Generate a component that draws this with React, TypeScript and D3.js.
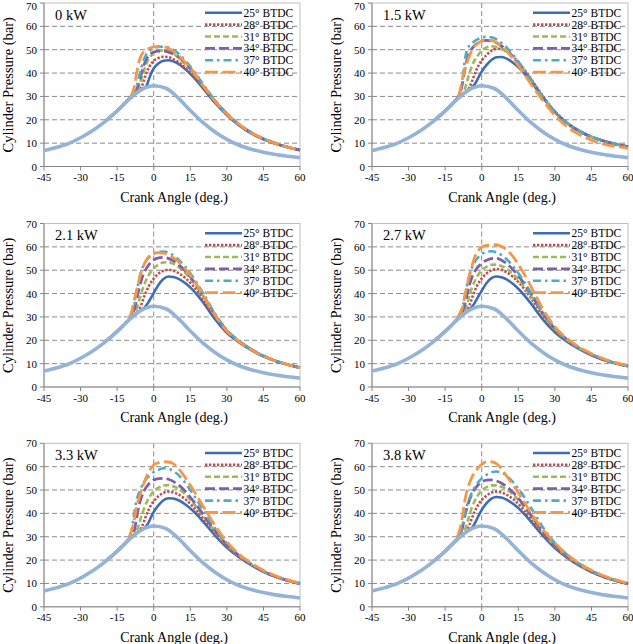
import React from "react";
import * as d3 from "d3";

// crank angle grid for the firing curves, and for the motoring curve
const angles = [-20, -15, -12, -10, -9, -8, -7, -6, -5, -4, -3, -2, -1, 0, 2, 4, 6, 8, 10, 13, 16, 20, 25, 30, 35, 40, 45, 50, 55, 60];
const motoringAngles = [-45, -40, -35, -30, -25, -20, -15, -10, -5, 0, 5, 10, 15, 20, 25, 30, 35, 40, 45, 50, 55, 60];
const motoring = [6.8, 8.1, 9.8, 12.3, 15.4, 19.2, 23.7, 28.8, 32.9, 34.6, 33.5, 29.4, 24.0, 19.0, 14.9, 11.6, 9.1, 7.4, 6.1, 5.1, 4.4, 3.8];

const timings = ["25° BTDC", "28° BTDC", "31° BTDC", "34° BTDC", "37° BTDC", "40° BTDC"];
const loads = ["0 kW", "1.5 kW", "2.1 kW", "2.7 kW", "3.3 kW", "3.8 kW"];
const xTicks = [-45, -30, -15, 0, 15, 30, 45, 60];
const yTicks = [0, 10, 20, 30, 40, 50, 60, 70];

// cylinder pressure (bar), one row per injection timing
const kw0 = [
  [19.3, 23.9, 26.9, 29.0, 30.0, 30.9, 31.6, 32.3, 33.0, 33.6, 34.4, 37.2, 40.0, 42.0, 44.2, 45.3, 45.5, 45.0, 44.0, 41.6, 38.6, 33.8, 27.4, 22.0, 17.6, 14.2, 11.6, 9.7, 8.2, 7.0],
  [19.3, 23.9, 26.9, 29.0, 30.0, 30.9, 31.6, 32.4, 34.0, 37.0, 40.0, 42.3, 44.0, 45.2, 46.5, 47.0, 46.8, 46.0, 44.8, 42.2, 39.2, 34.2, 27.7, 22.2, 17.8, 14.3, 11.7, 9.8, 8.3, 7.0],
  [19.3, 23.9, 26.9, 29.0, 30.0, 31.0, 32.3, 34.5, 37.5, 41.0, 44.0, 46.2, 47.6, 48.5, 49.5, 49.7, 49.3, 48.3, 46.8, 43.8, 40.3, 34.8, 28.0, 22.4, 17.9, 14.4, 11.8, 9.9, 8.3, 7.0],
  [19.3, 23.9, 26.9, 29.0, 30.0, 31.2, 33.0, 36.0, 40.0, 43.5, 46.0, 47.6, 48.5, 49.0, 49.4, 49.4, 49.0, 48.2, 47.0, 44.2, 40.8, 35.2, 28.3, 22.6, 18.0, 14.5, 11.9, 9.9, 8.3, 7.0],
  [19.3, 23.9, 26.9, 29.0, 30.2, 31.8, 34.5, 38.5, 42.5, 45.8, 48.0, 49.3, 50.2, 50.8, 51.2, 51.3, 51.0, 50.0, 48.5, 45.3, 41.5, 35.6, 28.5, 22.7, 18.1, 14.6, 11.9, 9.9, 8.3, 7.0],
  [19.3, 23.9, 27.0, 29.3, 30.8, 34.0, 40.0, 45.0, 47.8, 49.2, 50.0, 50.5, 50.9, 51.2, 51.4, 51.3, 50.6, 49.4, 47.8, 44.5, 40.8, 35.0, 28.2, 22.5, 18.0, 14.5, 11.9, 9.9, 8.3, 7.0],
];
const kw15 = [
  [19.3, 23.9, 26.9, 29.0, 30.0, 30.9, 31.6, 32.3, 33.0, 33.8, 35.0, 36.8, 38.8, 40.6, 43.5, 45.6, 46.8, 46.9, 46.3, 44.3, 41.5, 36.6, 29.6, 23.3, 18.6, 15.2, 12.7, 10.9, 9.5, 8.4],
  [19.3, 23.9, 26.9, 29.0, 30.0, 30.9, 31.6, 32.5, 34.0, 36.5, 39.2, 41.8, 43.8, 45.4, 47.8, 49.6, 50.4, 50.3, 49.4, 46.8, 43.4, 37.8, 30.3, 23.6, 18.8, 15.3, 12.8, 11.0, 9.6, 8.5],
  [19.3, 23.9, 26.9, 29.0, 30.0, 31.0, 33.0, 36.5, 40.0, 43.0, 45.3, 47.0, 48.4, 49.6, 51.0, 51.5, 51.2, 50.4, 49.2, 46.3, 42.9, 37.4, 30.0, 23.4, 18.6, 15.2, 12.7, 10.9, 9.5, 8.4],
  [19.3, 23.9, 26.9, 29.2, 31.0, 35.0, 41.0, 46.0, 48.8, 50.5, 51.7, 52.6, 53.2, 53.7, 54.0, 53.8, 53.0, 51.7, 50.0, 46.8, 43.0, 37.2, 29.8, 23.2, 18.5, 15.1, 12.7, 10.9, 9.5, 8.4],
  [19.3, 23.9, 26.9, 29.3, 31.5, 36.0, 45.0, 50.0, 51.8, 52.8, 53.6, 54.3, 54.8, 55.2, 55.5, 55.3, 54.5, 53.0, 51.2, 47.6, 43.6, 37.6, 30.0, 23.2, 18.6, 15.2, 12.8, 11.0, 9.6, 8.6],
  [19.3, 23.9, 27.0, 29.5, 32.0, 37.0, 41.5, 44.6, 47.4, 49.8, 51.4, 52.4, 53.2, 53.7, 54.2, 54.0, 53.1, 51.6, 49.8, 46.0, 41.8, 35.6, 28.3, 21.9, 17.0, 13.7, 11.3, 9.6, 8.6, 7.8],
];
const kw21 = [
  [19.3, 23.9, 26.9, 29.0, 30.0, 30.9, 31.6, 32.3, 33.0, 33.8, 35.0, 36.6, 38.4, 40.2, 43.8, 46.2, 47.3, 47.1, 46.4, 44.4, 41.6, 36.6, 29.2, 23.2, 19.1, 15.8, 13.1, 11.1, 9.5, 8.2],
  [19.3, 23.9, 26.9, 29.0, 30.0, 30.9, 31.8, 33.2, 35.5, 38.5, 41.0, 43.2, 45.0, 46.4, 48.6, 49.8, 50.2, 49.8, 48.9, 46.6, 43.5, 38.2, 30.3, 23.8, 19.4, 16.0, 13.2, 11.2, 9.6, 8.3],
  [19.3, 23.9, 26.9, 29.0, 30.0, 31.2, 33.5, 37.0, 40.5, 43.5, 46.0, 48.0, 49.6, 50.8, 52.4, 53.3, 53.4, 52.8, 51.5, 48.8, 45.2, 39.3, 30.9, 24.1, 19.6, 16.1, 13.3, 11.2, 9.6, 8.3],
  [19.3, 23.9, 26.9, 29.1, 30.5, 33.0, 37.5, 42.0, 46.0, 48.8, 50.8, 52.3, 53.5, 54.4, 55.3, 55.5, 55.1, 54.1, 52.6, 49.6, 45.8, 39.7, 31.1, 24.2, 19.6, 16.1, 13.3, 11.2, 9.6, 8.3],
  [19.3, 23.9, 27.0, 29.3, 31.5, 35.0, 40.5, 46.0, 50.0, 52.5, 54.2, 55.4, 56.3, 57.0, 57.8, 58.0, 57.6, 56.4, 54.7, 51.4, 47.2, 40.6, 31.6, 24.4, 19.7, 16.2, 13.4, 11.3, 9.6, 8.3],
  [19.3, 23.9, 27.0, 29.8, 32.5, 37.0, 41.5, 45.9, 49.5, 52.4, 54.4, 55.8, 56.7, 57.2, 57.5, 57.3, 56.6, 55.4, 53.8, 50.5, 46.4, 39.9, 31.0, 23.9, 19.4, 16.0, 13.2, 11.2, 9.6, 8.3],
];
const kw27 = [
  [19.3, 23.9, 26.9, 29.0, 30.0, 30.9, 31.6, 32.3, 33.2, 34.3, 35.8, 37.6, 39.5, 41.2, 44.5, 46.6, 47.3, 47.0, 46.2, 44.0, 41.0, 36.0, 29.0, 23.4, 19.4, 16.2, 13.6, 11.6, 10.1, 8.9],
  [19.3, 23.9, 26.9, 29.0, 30.0, 30.9, 31.8, 33.0, 35.0, 38.0, 40.8, 43.2, 45.0, 46.5, 48.6, 50.0, 50.5, 50.2, 49.3, 47.0, 43.8, 38.4, 30.6, 24.3, 19.8, 16.4, 13.7, 11.7, 10.1, 8.9],
  [19.3, 23.9, 26.9, 29.0, 30.0, 31.0, 32.5, 35.5, 39.0, 42.5, 45.0, 47.0, 48.7, 50.0, 51.5, 52.3, 52.4, 51.8, 50.7, 48.2, 44.8, 39.2, 31.2, 24.7, 20.1, 16.6, 13.9, 11.8, 10.2, 9.0],
  [19.3, 23.9, 26.9, 29.1, 30.3, 32.0, 35.0, 39.5, 43.8, 47.0, 49.2, 50.8, 52.0, 53.0, 54.3, 55.0, 55.1, 54.4, 53.0, 50.1, 46.3, 40.2, 31.7, 25.0, 20.3, 16.8, 14.0, 11.9, 10.2, 9.0],
  [19.3, 23.9, 26.9, 29.2, 31.0, 34.0, 38.0, 43.5, 48.0, 51.0, 53.2, 54.8, 56.0, 56.9, 57.8, 58.1, 57.7, 56.6, 54.9, 51.5, 47.3, 40.8, 32.0, 25.1, 20.3, 16.8, 14.0, 11.9, 10.2, 9.0],
  [19.3, 23.9, 27.0, 29.5, 31.5, 33.8, 38.7, 43.5, 48.0, 51.8, 55.2, 57.4, 58.9, 59.9, 60.6, 61.0, 60.9, 60.2, 59.0, 55.6, 50.8, 43.5, 33.5, 25.8, 20.7, 17.1, 14.3, 12.1, 10.4, 9.2],
];
const kw33 = [
  [19.3, 23.9, 26.9, 29.0, 30.0, 30.9, 31.6, 32.3, 33.0, 33.6, 34.6, 36.3, 38.6, 40.6, 43.5, 45.6, 46.5, 46.4, 45.7, 43.8, 41.2, 36.8, 30.7, 25.4, 21.2, 17.8, 15.0, 12.8, 11.2, 9.9],
  [19.3, 23.9, 26.9, 29.0, 30.0, 30.9, 31.7, 32.6, 34.0, 36.5, 39.3, 41.7, 43.7, 45.2, 47.4, 48.8, 49.3, 49.0, 48.2, 46.0, 43.0, 38.2, 31.7, 26.0, 21.5, 18.0, 15.1, 12.9, 11.2, 9.9],
  [19.3, 23.9, 26.9, 29.0, 30.0, 31.0, 32.6, 35.5, 39.0, 42.0, 44.5, 46.5, 48.2, 49.5, 51.0, 51.9, 52.1, 51.6, 50.6, 48.1, 44.7, 39.4, 32.4, 26.4, 21.8, 18.2, 15.2, 13.0, 11.3, 10.0],
  [19.3, 23.9, 26.9, 29.1, 30.4, 32.5, 38.0, 43.5, 47.0, 49.5, 51.3, 52.6, 53.6, 54.3, 54.9, 55.0, 54.6, 53.7, 52.3, 49.4, 45.6, 40.0, 32.7, 26.6, 21.9, 18.2, 15.2, 13.0, 11.3, 10.0],
  [19.3, 23.9, 27.0, 29.8, 33.0, 40.0, 45.7, 49.0, 51.4, 53.3, 54.8, 56.0, 56.9, 57.7, 58.7, 59.3, 59.1, 58.2, 56.6, 53.0, 48.5, 41.8, 33.7, 27.1, 22.2, 18.4, 15.4, 13.1, 11.4, 10.0],
  [19.3, 23.9, 27.0, 30.0, 32.9, 37.1, 42.9, 46.6, 50.0, 53.1, 55.7, 57.8, 59.5, 60.7, 61.7, 62.1, 62.0, 61.3, 59.4, 55.2, 50.4, 43.5, 35.0, 27.8, 22.6, 18.7, 15.6, 13.3, 11.5, 10.1],
];
const kw38 = [
  [19.3, 23.9, 26.9, 29.0, 30.0, 30.9, 31.6, 32.3, 33.0, 33.8, 35.4, 37.5, 39.6, 41.5, 44.4, 46.3, 47.0, 46.8, 46.0, 44.0, 41.3, 36.7, 30.6, 25.2, 21.0, 17.6, 14.9, 12.8, 11.2, 9.8],
  [19.3, 23.9, 26.9, 29.0, 30.0, 30.9, 31.8, 33.0, 35.2, 38.0, 40.5, 42.6, 44.4, 45.8, 47.6, 48.9, 49.3, 49.0, 48.1, 46.0, 43.0, 38.0, 31.4, 25.7, 21.3, 17.8, 15.0, 12.9, 11.2, 9.8],
  [19.3, 23.9, 26.9, 29.0, 30.0, 31.0, 32.8, 35.8, 39.4, 42.6, 45.0, 47.0, 48.6, 49.8, 51.2, 52.0, 52.0, 51.4, 50.4, 47.9, 44.6, 39.2, 32.0, 26.1, 21.5, 18.0, 15.1, 13.0, 11.3, 9.9],
  [19.3, 23.9, 26.9, 29.1, 30.5, 33.5, 38.5, 42.5, 45.8, 48.3, 50.2, 51.6, 52.7, 53.5, 54.2, 54.3, 53.9, 53.0, 51.6, 48.8, 45.2, 39.6, 32.3, 26.3, 21.7, 18.1, 15.2, 13.0, 11.3, 9.9],
  [19.3, 23.9, 27.0, 29.3, 31.0, 34.0, 39.3, 43.5, 46.5, 49.0, 51.0, 52.6, 53.9, 55.0, 56.5, 57.6, 57.9, 57.5, 56.3, 53.2, 49.2, 42.8, 34.2, 27.3, 22.3, 18.5, 15.5, 13.2, 11.4, 10.0],
  [19.3, 23.9, 27.0, 30.0, 33.0, 38.0, 45.0, 50.0, 53.0, 55.5, 57.4, 58.8, 60.0, 61.0, 62.1, 62.1, 61.3, 59.3, 56.3, 52.0, 47.2, 40.6, 33.2, 27.3, 22.4, 18.6, 15.6, 13.3, 11.5, 10.1],
];

const panels = [kw0, kw15, kw21, kw27, kw33, kw38];

const colors = ["#3d6db5", "#c0504d", "#9bbb59", "#7f60a6", "#4bacc6", "#f79646"];
const dashes = ["none", "2.4,1.6", "6,3", "10,4", "8,4,2.5,4", "13,4.5"];
const widths = [2.6, 2.6, 2.6, 2.8, 2.6, 2.8];
const motoringColor = "#95b3d7";
const font = "Liberation Serif, Times New Roman, serif";

const plotW = 256;
const plotH = 163.5;
const colX = [44, 372];
const rowY = [3, 223.5, 443.3];

const Panel: React.FC<{ x0: number; y0: number; label: string; series: number[][] }> = ({ x0, y0, label, series }) => {
  const x = d3.scaleLinear().domain([-45, 60]).range([x0, x0 + plotW]);
  const y = d3.scaleLinear().domain([0, 70]).range([y0 + plotH, y0]);
  const line = d3
    .line<[number, number]>()
    .x((d) => x(d[0]))
    .y((d) => y(d[1]))
    .curve(d3.curveMonotoneX);
  const bottom = y(0);
  const legendX = x0 + 161;

  return (
    <g fontFamily={font} fill="#000">
      {/* plot frame */}
      <rect x={x0} y={y0} width={plotW} height={plotH} fill="none" stroke="#bfbfbf" strokeWidth={1} />
      {yTicks.slice(1, -1).map((t) => (
        <line key={t} x1={x0} x2={x0 + plotW} y1={y(t)} y2={y(t)} stroke="#8a8a8a" strokeWidth={1} strokeDasharray="5,3" />
      ))}
      <line x1={x(0)} x2={x(0)} y1={y0} y2={bottom} stroke="#8a8a8a" strokeWidth={1} strokeDasharray="5,3" />
      <line x1={x0} x2={x0} y1={y0} y2={bottom} stroke="#868686" strokeWidth={1} />
      <line x1={x0} x2={x0 + plotW} y1={bottom} y2={bottom} stroke="#868686" strokeWidth={1} />
      {yTicks.map((t) => (
        <g key={t}>
          <line x1={x0 - 4} x2={x0} y1={y(t)} y2={y(t)} stroke="#868686" />
          <text x={x0 - 7} y={Math.max(y(t) + 4, 10)} textAnchor="end" fontSize={11} fontFamily={font}>
            {t}
          </text>
        </g>
      ))}
      {xTicks.map((t) => (
        <g key={t}>
          <line x1={x(t)} x2={x(t)} y1={bottom} y2={bottom + 4} stroke="#868686" />
          <text x={x(t)} y={bottom + 14.5} textAnchor="middle" fontSize={11} fontFamily={font}>
            {t}
          </text>
        </g>
      ))}
      <text x={x0 + plotW / 2 + 2} y={bottom + 35} textAnchor="middle" fontSize={14} fontFamily={font}>
        Crank Angle (deg.)
      </text>
      <text
        transform={`translate(${x0 - 31},${y0 + plotH / 2}) rotate(-90)`}
        textAnchor="middle"
        fontSize={14.5}
        fontFamily={font}
      >
        Cylinder Pressure (bar)
      </text>
      {series.map((vals, i) => (
        <path
          key={i}
          d={line(angles.map((a, j) => [a, vals[j]] as [number, number])) ?? ""}
          fill="none"
          stroke={colors[i]}
          strokeWidth={widths[i]}
          strokeDasharray={dashes[i]}
        />
      ))}
      <path
        d={line(motoringAngles.map((a, j) => [a, motoring[j]] as [number, number])) ?? ""}
        fill="none"
        stroke={motoringColor}
        strokeWidth={3.6}
      />
      <text x={x0 + 11} y={y0 + 16.5} fontSize={14.5} fontFamily={font}>
        {label}
      </text>
      {timings.map((name, i) => {
        const ly = y0 + 9.7 + i * 11.9;
        return (
          <g key={name}>
            <line
              x1={legendX}
              x2={legendX + 37}
              y1={ly}
              y2={ly}
              stroke={colors[i]}
              strokeWidth={widths[i]}
              strokeDasharray={dashes[i]}
            />
            <text x={legendX + 38.5} y={ly + 4} fontSize={11.5} fontFamily={font}>
              {name}
            </text>
          </g>
        );
      })}
    </g>
  );
};

export default function App() {
  return (
    <div style={{ position: "absolute", left: 0, top: 0 }}>
      <svg width={633} height={644} style={{ display: "block", background: "#fff" }}>
        {loads.map((label, k) => (
          <Panel key={label} x0={colX[k % 2]} y0={rowY[Math.floor(k / 2)]} label={label} series={panels[k]} />
        ))}
      </svg>
    </div>
  );
}
